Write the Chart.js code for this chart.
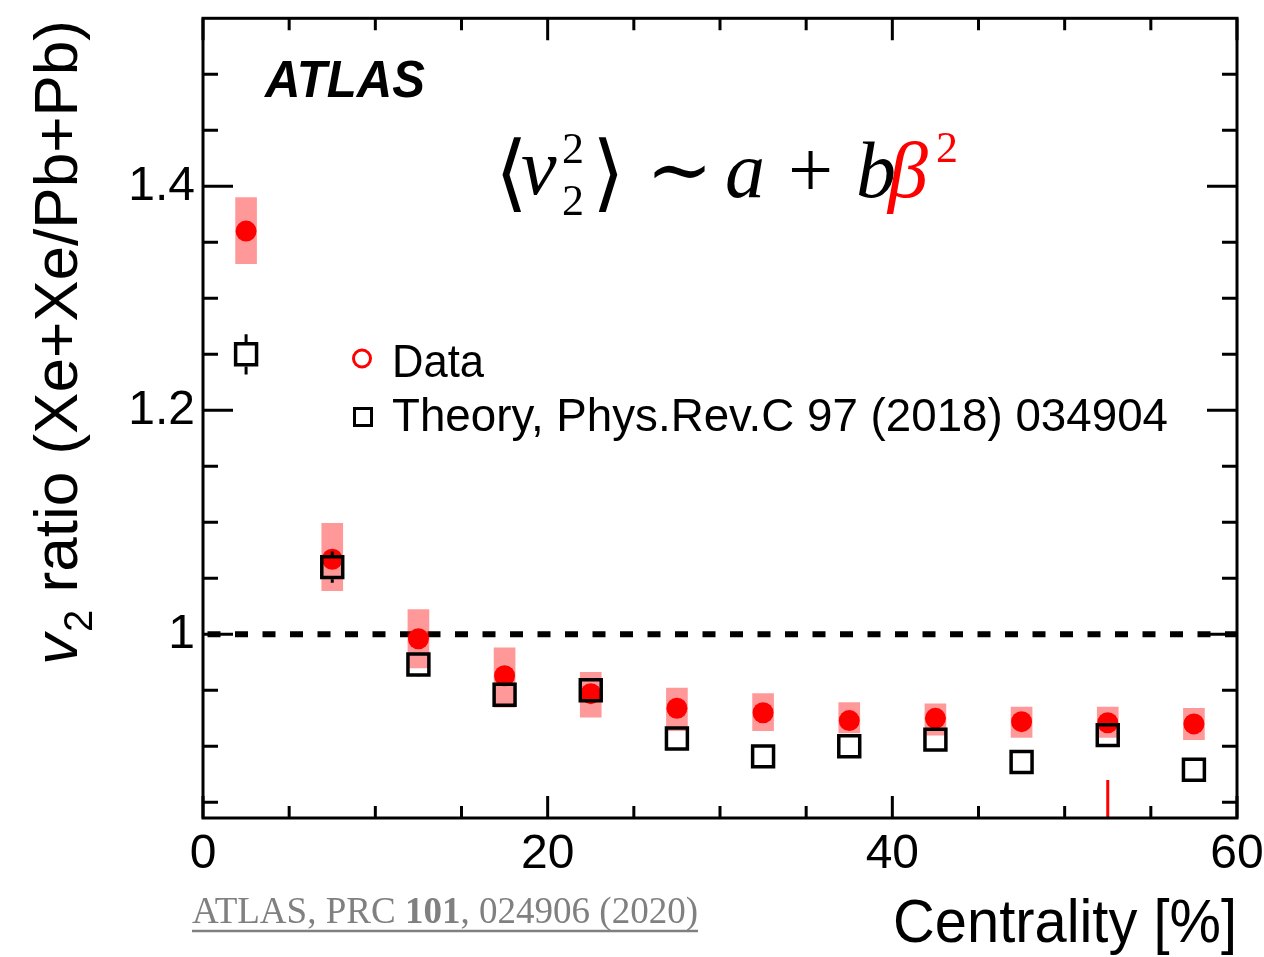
<!DOCTYPE html>
<html>
<head>
<meta charset="utf-8">
<script src="https://cdn.jsdelivr.net/npm/chart.js@4/dist/chart.umd.min.js"></script>
<style>
  html, body { margin: 0; padding: 0; background: #fff; }
  #wrap { width: 1264px; height: 957px; }
</style>
</head>
<body>
<div id="wrap"><canvas id="c" width="1264" height="957"></canvas></div>
<script>
/* valores -------------------------------------------------------- */
const centrality  = [2.5, 7.5, 12.5, 17.5, 22.5, 27.5, 32.5, 37.5, 42.5, 47.5, 52.5, 57.5];
const dataRatio   = [1.360, 1.067, 0.996, 0.963, 0.947, 0.934, 0.930, 0.923, 0.925, 0.922, 0.921, 0.920];
const dataSysLo   = [1.331, 1.039, 0.970, 0.935, 0.926, 0.914, 0.914, 0.912, 0.910, 0.908, 0.908, 0.906];
const dataSysHi   = [1.390, 1.099, 1.022, 0.988, 0.966, 0.952, 0.947, 0.939, 0.938, 0.935, 0.935, 0.934];
const theoryRatio = [1.250, 1.060, 0.973, 0.946, 0.950, 0.907, 0.891, 0.900, 0.906, 0.886, 0.910, 0.879];
const theoryErr   = [0.018, 0.014, 0.011, 0.011, 0.010, 0.007, 0.007, 0.007, 0.007, 0.007, 0.007, 0.007];
const stubX       = [52.5, 52.5];          // trazo rojo suelto abajo
const stubY       = [0.836, 0.870];
const refX        = [0, 60];               // línea de referencia = 1
const refY        = [1, 1];

/* ejes ----------------------------------------------------------- */
const xMin = 0, xMax = 60, xStep = 5;
const xMajor = [0, 20, 40, 60];
const yMin = 0.836, yMax = 1.55;
const yMinorTicks = [];
for (let v = 0.85; v <= 1.5001; v += 0.05) yMinorTicks.push(+v.toFixed(2));
const yMajor = [1.0, 1.2, 1.4];

const isMajor = (list, v) => list.some(m => Math.abs(m - v) < 1e-6);

const SANS = "'Liberation Sans', Arial, sans-serif";
const SERIF = "'Liberation Serif', 'Times New Roman', 'DejaVu Serif', serif";

// texto ajustado a un ancho dado (la figura usa una Helvetica estrecha)
function fitText(ctx, txt, x, yBase, width) {
  const w = ctx.measureText(txt).width;
  ctx.save();
  ctx.translate(x, yBase);
  ctx.scale(width / w, 1);
  ctx.fillText(txt, 0, 0);
  ctx.restore();
}

/* marco, ticks hacia dentro, barras de error y textos ------------ */
const decor = {
  id: 'decor',
  afterDatasetsDraw(chart) {
    const { ctx, scales: { x, y } } = chart;
    const half = 14.8 * Math.SQRT1_2 + 1.75;
    ctx.save();
    ctx.strokeStyle = '#000';
    ctx.lineWidth = 3;
    centrality.forEach((c, i) => {
      const px = x.getPixelForValue(c);
      const py = y.getPixelForValue(theoryRatio[i]);
      const hi = y.getPixelForValue(theoryRatio[i] + theoryErr[i]);
      const lo = y.getPixelForValue(theoryRatio[i] - theoryErr[i]);
      ctx.beginPath();
      if (hi < py - half) { ctx.moveTo(px, hi); ctx.lineTo(px, py - half); }
      if (lo > py + half) { ctx.moveTo(px, py + half); ctx.lineTo(px, lo); }
      ctx.stroke();
    });
    ctx.restore();
  },
  afterDraw(chart) {
    const { ctx, chartArea: a, scales: { x, y } } = chart;
    ctx.save();
    ctx.strokeStyle = '#000';
    ctx.lineWidth = 3;
    ctx.strokeRect(a.left, a.top, a.right - a.left, a.bottom - a.top);

    ctx.beginPath();
    y.ticks.forEach(t => {
      const py = y.getPixelForValue(t.value);
      const len = isMajor(yMajor, t.value) ? 30 : 15;
      ctx.moveTo(a.left, py);  ctx.lineTo(a.left + len, py);
      ctx.moveTo(a.right, py); ctx.lineTo(a.right - len, py);
    });
    x.ticks.forEach(t => {
      const px = x.getPixelForValue(t.value);
      const len = isMajor(xMajor, t.value) ? 22 : 12;
      ctx.moveTo(px, a.bottom); ctx.lineTo(px, a.bottom - len);
      ctx.moveTo(px, a.top);    ctx.lineTo(px, a.top + len);
    });
    ctx.stroke();

    ctx.fillStyle = '#000';
    ctx.textBaseline = 'alphabetic';
    ctx.textAlign = 'left';

    // ATLAS
    ctx.font = `italic bold 51px ${SANS}`;
    fitText(ctx, 'ATLAS', 265, 97, 160);

    // fórmula
    ctx.font = `84px ${SERIF}`;
    ctx.fillText('\u27E8', 495, 201);
    ctx.font = `italic 80px ${SERIF}`;
    ctx.fillText('v', 521, 194);
    ctx.font = `44px ${SERIF}`;
    ctx.fillText('2', 562, 163);
    ctx.fillText('2', 562, 215);
    ctx.font = `84px ${SERIF}`;
    ctx.fillText('\u27E9', 592, 201);
    ctx.font = `80px ${SERIF}`;
    ctx.fillText('\u223C', 646, 197);
    ctx.fillText('+', 788, 197);
    ctx.font = `italic 80px ${SERIF}`;
    ctx.fillText('a', 725, 197);
    ctx.fillText('b', 856, 197);
    ctx.fillStyle = '#ff0000';
    ctx.fillText('\u03B2', 888, 197);
    ctx.font = `44px ${SERIF}`;
    ctx.fillText('2', 936, 162);
    ctx.fillStyle = '#000';

    // leyenda
    ctx.lineWidth = 3;
    ctx.strokeStyle = '#ff0000';
    ctx.beginPath(); ctx.arc(362, 358.5, 8.5, 0, Math.PI * 2); ctx.stroke();
    ctx.strokeStyle = '#000';
    ctx.strokeRect(354.5, 408.5, 17, 17);
    ctx.font = `47px ${SANS}`;
    fitText(ctx, 'Data', 392, 377, 92);
    fitText(ctx, 'Theory, Phys.Rev.C 97 (2018) 034904', 392, 431, 776);

    // título eje x
    ctx.font = `61px ${SANS}`;
    fitText(ctx, 'Centrality [%]', 893, 942, 344);

    // título eje y (girado)
    ctx.save();
    ctx.translate(77, 665);
    ctx.rotate(-Math.PI / 2);
    ctx.font = `italic 62px ${SANS}`;
    ctx.fillText('v', 0, 0);
    let off = ctx.measureText('v').width + 2;
    ctx.font = `40px ${SANS}`;
    ctx.fillText('2', off, 15);
    off += ctx.measureText('2').width;
    ctx.font = `62px ${SANS}`;
    fitText(ctx, ' ratio (Xe+Xe/Pb+Pb)', off, 0, 645 - off);
    ctx.restore();

    // referencia
    const parts = [['ATLAS, PRC ', ''], ['101', 'bold '], [', 024906 (2020)', '']];
    let total = 0;
    parts.forEach(([t, w]) => { ctx.font = `${w}38px ${SERIF}`; total += ctx.measureText(t).width; });
    const x0 = 192, x1 = 698;
    const sx = (x1 - x0) / total;
    ctx.save();
    ctx.translate(x0, 923);
    ctx.scale(sx, 1);
    ctx.fillStyle = '#808080';
    let cx = 0;
    parts.forEach(([t, w]) => {
      ctx.font = `${w}38px ${SERIF}`;
      ctx.fillText(t, cx, 0);
      cx += ctx.measureText(t).width;
    });
    ctx.restore();
    ctx.strokeStyle = '#808080';
    ctx.lineWidth = 2.5;
    ctx.beginPath(); ctx.moveTo(x0, 931); ctx.lineTo(x1, 931); ctx.stroke();

    ctx.restore();
  }
};

new Chart(document.getElementById('c'), {
  type: 'scatter',
  data: {
    datasets: [
      { // línea discontinua en 1
        type: 'line', showLine: true,
        data: refX.map((v, i) => ({ x: v, y: refY[i] })),
        borderColor: '#000', borderWidth: 6, borderDash: [13, 14.5], borderDashOffset: 23,
        pointRadius: 0, order: 6
      },
      { // cajas sistemáticas
        type: 'bar',
        data: centrality.map((c, i) => ({ x: c, y: [dataSysLo[i], dataSysHi[i]] })),
        backgroundColor: 'rgba(255,0,0,0.4)', borderWidth: 0,
        barThickness: 21, order: 5
      },
      {
        type: 'line', showLine: true,
        data: stubX.map((v, i) => ({ x: v, y: stubY[i] })),
        borderColor: '#ff0000', borderWidth: 3, pointRadius: 0, order: 4
      },
      { // datos
        data: centrality.map((c, i) => ({ x: c, y: dataRatio[i] })),
        pointStyle: 'circle', pointRadius: 10.5,
        backgroundColor: '#ff0000', borderWidth: 0, order: 3
      },
      { // teoría
        data: centrality.map((c, i) => ({ x: c, y: theoryRatio[i] })),
        pointStyle: 'rect', pointRadius: 14.8,
        backgroundColor: 'rgba(0,0,0,0)', borderColor: '#000', borderWidth: 3.5, order: 1
      }
    ]
  },
  options: {
    responsive: false,
    animation: false,
    events: [],
    layout: { padding: { top: 12, right: 27, left: 0, bottom: 0 } },
    plugins: { legend: { display: false }, tooltip: { enabled: false } },
    scales: {
      x: {
        type: 'linear', min: xMin, max: xMax, offset: false,
        grid: { display: false, drawTicks: false },
        border: { display: false },
        ticks: {
          stepSize: xStep, autoSkip: false, maxRotation: 0, padding: 8,
          color: '#000', font: { family: SANS, size: 48 },
          callback: v => isMajor(xMajor, v) ? String(v) : ''
        },
        afterFit: s => { s.height = 139; s.paddingLeft = 0; s.paddingRight = 0; }
      },
      y: {
        type: 'linear', min: yMin, max: yMax,
        grid: { display: false, drawTicks: false },
        border: { display: false },
        afterBuildTicks: s => { s.ticks = yMinorTicks.map(v => ({ value: v })); },
        ticks: {
          autoSkip: false, padding: 8,
          color: '#000', font: { family: SANS, size: 48 },
          callback: v => isMajor(yMajor, v) ? String(+v.toFixed(1)) : ''
        },
        afterFit: s => { s.width = 203; s.paddingTop = 0; s.paddingBottom = 0; }
      }
    }
  },
  plugins: [decor]
});
</script>
</body>
</html>
